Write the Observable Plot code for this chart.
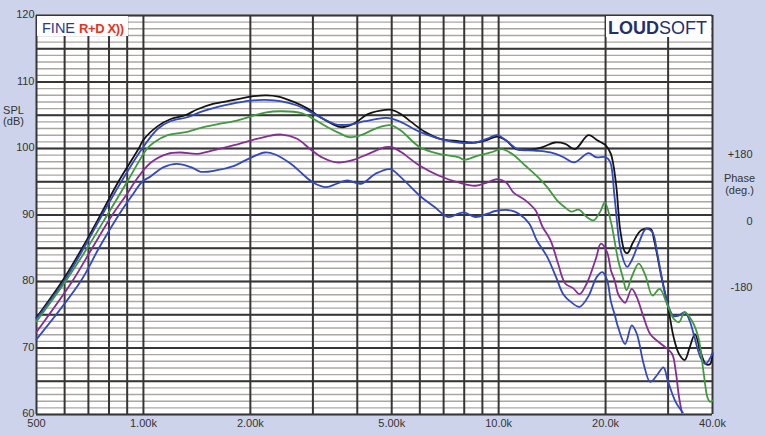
<!DOCTYPE html>
<html><head><meta charset="utf-8">
<script src="https://cdn.jsdelivr.net/npm/d3@7"></script>
<script src="https://cdn.jsdelivr.net/npm/@observablehq/plot@0.6"></script>
<style>body{margin:0;background:#cdd3ea;}</style>
</head><body><div id="chart"></div>
<script>
const xTicks = [500,1000,2000,5000,10000,20000,40000];
const xTickLabels = ["500","1.00k","2.00k","5.00k","10.0k","20.0k","40.0k"];
const xGrid = [500,600,700,800,900,1000,2000,3000,4000,5000,6000,7000,8000,9000,10000,20000,30000,40000];
const yTicks = [60,70,80,90,100,110,120];
const phaseTicks = [180,0,-180];
const phaseLabels = ["+180","0","-180"];

const black = [[500,74.6],[590,80],[672,85],[757,90],[850,95],[970,100],[1000,101.3],[1100,103.4],[1190,104.4],[1310,105.0],[1420,105.9],[1570,106.7],[1800,107.3],[2000,107.8],[2220,108.0],[2400,107.8],[2650,107.0],[2900,106.0],[3150,104.7],[3400,103.7],[3600,103.2],[3900,103.7],[4300,105.2],[4800,105.8],[5000,105.8],[5300,105.2],[5670,104.0],[6200,102.5],[6800,101.5],[7700,101.1],[8600,100.9],[9300,101.3],[9900,101.8],[10500,101.2],[11200,99.9],[12300,99.8],[13300,100.2],[14400,100.9],[15400,100.7],[16400,99.9],[17900,102.0],[19000,101.2],[20000,100.5],[20700,99.2],[21400,94.7],[22000,87.7],[22700,84.4],[23100,84.3],[23900,85.9],[25200,87.7],[26800,87.9],[27400,86.2],[28600,81.2],[30000,76.1],[31100,71.6],[32200,69.1],[33400,68.2],[34500,70.1],[35700,72.1],[37000,69.5],[38300,67.6],[39400,67.6],[40000,69.2]];
const blueTop = [[500,74.4],[597,80],[679,85],[765,90],[866,95],[992,100],[1100,103.0],[1190,104.1],[1330,104.7],[1450,105.5],[1600,106.2],[1800,106.8],[2000,107.2],[2200,107.3],[2450,107.1],[2700,106.5],[2950,105.5],[3200,104.5],[3500,103.6],[3800,103.6],[4200,104.1],[4800,104.6],[5000,104.5],[5300,104.0],[6000,102.5],[6800,101.5],[7700,100.9],[8600,100.9],[9300,101.5],[9900,102.0],[10500,101.2],[11300,99.9],[12600,99.7],[14000,99.4],[15200,98.7],[16300,97.9],[17900,99.3],[18800,98.7],[20000,98.7],[20600,98.0],[21200,92.7],[22100,84.5],[23000,82.2],[23700,83.2],[24900,86.0],[26000,87.9],[27100,87.4],[27900,84.5],[29100,79.3],[30000,76.4],[31100,74.8],[32200,74.9],[33400,75.4],[34500,74.1],[35400,72.1],[37000,68.6],[38200,67.6],[40000,69.2]];
const green = [[500,74.0],[603,80],[694,85],[791,90],[900,95],[1025,100],[1070,100.9],[1170,102.0],[1330,102.5],[1450,103.1],[1600,103.6],[1800,104.1],[2000,104.8],[2200,105.4],[2450,105.6],[2800,105.3],[3000,104.5],[3300,103.2],[3600,102.2],[3800,101.7],[4100,102.0],[4500,103.0],[4950,103.5],[5300,102.7],[6000,100.2],[6800,99.2],[7700,98.7],[8000,98.3],[8700,98.9],[9500,99.4],[10200,99.9],[10900,99.2],[11900,97.4],[12900,95.7],[13700,94.2],[14600,92.2],[15500,91.0],[16000,90.5],[16800,90.8],[17700,89.7],[18500,89.2],[19400,90.7],[19900,91.9],[20700,89.0],[21700,83.2],[22400,80.5],[22900,78.7],[23700,80.7],[24800,82.7],[25900,80.9],[27100,77.9],[28400,78.9],[29800,76.6],[31100,74.4],[32200,73.9],[33400,75.4],[35000,74.1],[36500,71.6],[37800,66.1],[38700,62.6],[39400,61.9],[40000,62.1]];
const purple = [[500,72.4],[630,80],[717,85],[817,90],[900,93.2],[960,95.5],[1050,97.9],[1170,99.2],[1270,99.4],[1420,99.2],[1570,99.7],[1800,100.5],[2000,101.2],[2220,101.8],[2450,102.1],[2700,101.5],[2950,99.9],[3200,98.6],[3500,97.9],[3900,98.3],[4300,99.2],[4800,100.2],[5000,100.2],[5300,99.5],[6000,97.4],[6800,95.9],[7700,94.9],[8600,94.4],[9300,94.9],[9900,95.4],[10500,94.9],[11000,93.4],[11900,92.2],[12700,90.7],[13300,88.2],[14000,86.2],[14700,82.7],[15400,79.7],[16200,79.0],[16900,78.1],[17700,79.7],[18800,83.5],[19400,85.7],[20200,84.4],[20700,81.7],[21200,80.2],[21700,78.1],[22100,77.4],[22700,76.8],[23700,78.9],[24500,77.6],[25600,74.6],[26700,72.1],[27900,71.1],[29500,70.1],[30800,69.1],[31500,66.6],[32200,62.6],[32800,60.3]];
const blueBottom = [[500,71.3],[665,80],[749,85],[852,90],[928,92.9],[992,95],[1047,95.8],[1140,97.2],[1240,97.7],[1360,97.2],[1450,96.5],[1600,96.7],[1800,97.4],[2000,98.6],[2200,99.4],[2350,99.1],[2600,97.7],[2800,96.2],[3000,94.9],[3270,94.2],[3500,94.7],[3750,95.2],[4100,94.7],[4500,96.2],[4950,96.9],[5300,95.7],[6000,92.9],[6600,91.2],[7200,89.7],[7700,90.2],[8000,90.4],[8600,89.7],[9300,90.2],[9800,90.6],[10800,90.7],[11400,90.2],[12200,88.7],[12800,86.2],[13700,83.7],[14500,80.7],[15200,78.1],[16000,76.9],[16900,76.2],[17900,77.8],[18900,80.7],[19600,81.4],[20200,80.2],[20700,77.0],[21200,75.1],[21700,73.1],[22700,70.6],[23700,73.4],[24500,72.1],[25600,67.6],[26700,64.9],[27900,65.9],[29100,67.1],[30000,64.9],[31500,61.9],[33000,60.3]];

const series = [
  {data: black, color: "#141414"},
  {data: blueTop, color: "#3148c0"},
  {data: green, color: "#3e9a3c"},
  {data: purple, color: "#862c96"},
  {data: blueBottom, color: "#3148c0"}
];

const lines = series.map(s => Plot.line(s.data, {x: d => d[0], y: d => d[1], stroke: s.color, strokeWidth: 1.8, curve: "catmull-rom"}));

const svg = Plot.plot({
  width: 765, height: 436,
  marginLeft: 36, marginRight: 53, marginTop: 15, marginBottom: 22,
  style: {background: "#cdd3ea", fontFamily: "'Liberation Sans', Arial, sans-serif", fontSize: "11px", color: "#333"},
  x: {type: "log", domain: [500, 40000], axis: null},
  y: {domain: [60, 120], axis: null},
  marks: [
    Plot.frame({fill: "white"}),
    Plot.ruleY(d3.range(60, 121, 1), {stroke: "#aaa6a2", strokeWidth: 1.4}),
    Plot.ruleX(xGrid, {stroke: "#363636", strokeWidth: 2}),
    Plot.ruleY(d3.range(60, 121, 5), {stroke: "#363636", strokeWidth: 2}),
    ...lines,
    Plot.text(xTicks, {x: d => d, text: (d, i) => xTickLabels[i], frameAnchor: "bottom", lineAnchor: "top", dy: 5, fontSize: 11, fill: "#333"}),
    Plot.axisY(yTicks, {tickSize: 0, tickPadding: 2, fontSize: 11, dy: -1}),
    Plot.text(phaseTicks, {x: () => 40000, y: p => 89.1 + p / 18, text: (p, i) => phaseLabels[i], dx: 40, textAnchor: "end", fontSize: 11, fill: "#333"}),
    Plot.text(["Phase\n(deg.)"], {x: () => 40000, y: () => 94.7, text: d => d, dx: 27, textAnchor: "middle", lineHeight: 1.1, fontSize: 11, fill: "#333"}),
    Plot.text(["SPL\n(dB)"], {x: () => 500, y: () => 104.9, text: d => d, dx: -23, textAnchor: "middle", lineHeight: 1.0, fontSize: 11, fill: "#333"})
  ]
});

const g = d3.select(svg).append("g").attr("text-anchor", "start");
g.append("rect").attr("x", 37).attr("y", 16).attr("width", 91).attr("height", 20).attr("fill", "white");
const t1 = g.append("text").attr("x", 42).attr("y", 33).attr("text-anchor", "start").attr("font-size", 14.5).attr("font-family", "'Liberation Sans', Arial, sans-serif");
t1.append("tspan").attr("fill", "#2b3a8c").text("FINE ");
t1.append("tspan").attr("fill", "#e8321e").attr("font-weight", "bold").attr("font-size", 13).attr("letter-spacing", -0.4).text("R+D X))");
g.append("rect").attr("x", 606).attr("y", 16).attr("width", 105).attr("height", 21).attr("fill", "white");
const t2 = g.append("text").attr("x", 707).attr("y", 34).attr("text-anchor", "end").attr("font-size", 18).attr("font-family", "'Liberation Sans', Arial, sans-serif").attr("fill", "#23306e");
t2.append("tspan").attr("font-weight", "bold").text("LOUD");
t2.append("tspan").text("SOFT");

document.getElementById("chart").appendChild(svg);
</script>
</body></html>
